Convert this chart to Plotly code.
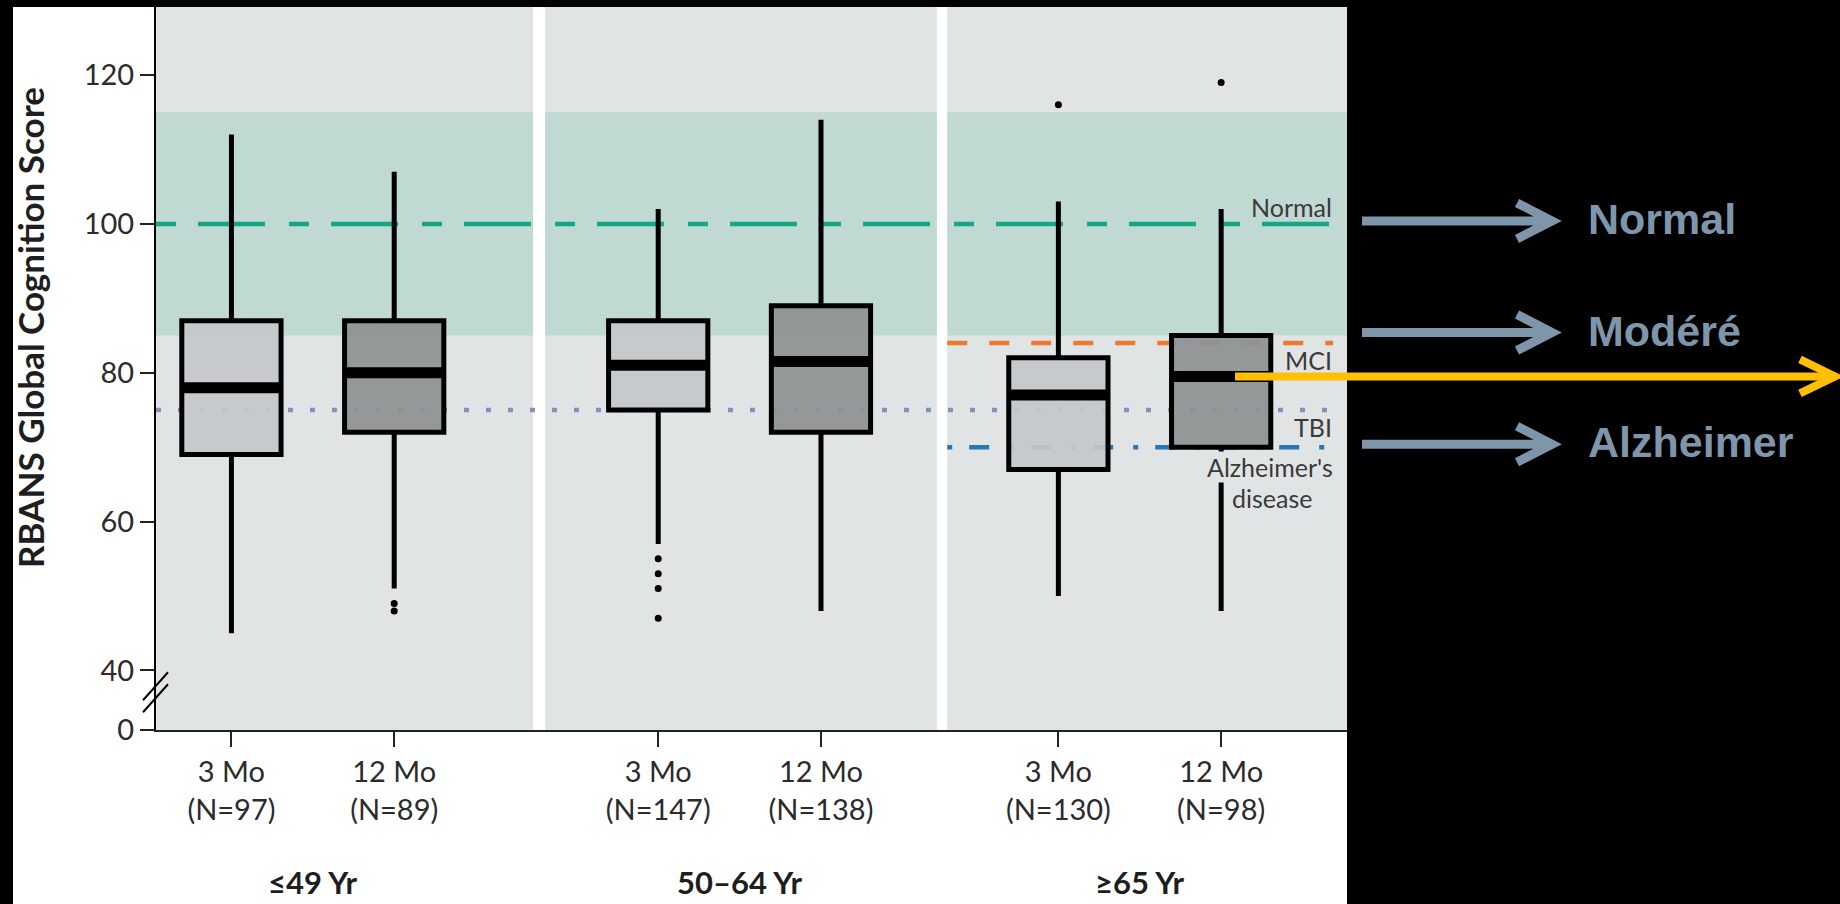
import plotly.graph_objects as go

# ---------------- data ----------------
groups = ["≤49 Yr", "50–64 Yr", "≥65 Yr"]
timepoints = ["3 Mo", "12 Mo"]
n_counts = [97, 89, 147, 138, 130, 98]          # order: g1-3Mo, g1-12Mo, g2-3Mo, ...
lower_whisker = [45, 51, 57, 48, 50, 48]
q1 = [69, 72, 75, 72, 67, 70]
median = [78, 80, 81, 81.5, 77, 79.5]
q3 = [87, 87, 87, 89, 82, 85]
upper_whisker = [112, 107, 102, 114, 103, 102]
outliers = [[], [49, 48], [55, 53, 51, 47], [], [116], [119]]

y_tick_values = [40, 60, 80, 100, 120]
normal_band = [85, 115]
threshold_names = ["Normal", "MCI", "TBI", "Alzheimer's"]
threshold_values = [100, 84, 75, 70]
side_labels = ["Normal", "Modéré", "Alzheimer"]
side_levels = [100, 85, 70]

# ---------------- layout constants ----------------
W, H = 1840, 904
ML, MR, MT, MB = 156, 493, 7, 174
PW, PH = W - ML - MR, H - MT - MB
X_RANGE = [0, 3]
Y_ZERO_POS = 32                     # display position of the broken-axis "0"
Y_RANGE = [Y_ZERO_POS, 129.14]
GROUP_CENTERS = [0.395, 1.47, 2.478]
OFFSET = 0.205
BOX_W = 0.25
PANEL_GAPS = [(0.950, 0.980), (1.967, 1.993)]
LINE_END = 2.965

PANEL_BG = "#e1e4e5"
BAND = "#c0d9d3"
FILL_3 = "rgba(196,200,202,0.93)"
FILL_12 = "rgba(142,146,146,0.93)"
TXT = "#2b2b2b"
FONT = "Lato"
SIDE_COLOR = "#7f95aa"


def px_x(p):
    return (p - ML) / PW


def px_y(p):
    return (H - MB - p) / PH


positions = []
for c in GROUP_CENTERS:
    positions += [c - OFFSET, c + OFFSET]

fig = go.Figure()

fills = [FILL_3, FILL_12]
for t in range(2):
    idx = [g * 2 + t for g in range(3)]
    fig.add_trace(go.Box(
        x=[positions[i] for i in idx],
        q1=[q1[i] for i in idx],
        median=[median[i] for i in idx],
        q3=[q3[i] for i in idx],
        lowerfence=[lower_whisker[i] for i in idx],
        upperfence=[upper_whisker[i] for i in idx],
        width=BOX_W, whiskerwidth=0, boxpoints=False,
        fillcolor=fills[t], line=dict(color="black", width=5),
        hoverinfo="skip", showlegend=False,
    ))

# thick median bars
mx, my = [], []
for p, m in zip(positions, median):
    mx += [p - BOX_W / 2, p + BOX_W / 2, None]
    my += [m, m, None]
fig.add_trace(go.Scatter(x=mx, y=my, mode="lines", line=dict(color="black", width=11),
                         hoverinfo="skip", showlegend=False))

# outliers
ox, oy = [], []
for p, outs in zip(positions, outliers):
    for v in outs:
        ox.append(p)
        oy.append(v)
fig.add_trace(go.Scatter(x=ox, y=oy, mode="markers", marker=dict(color="black", size=7),
                         hoverinfo="skip", showlegend=False))

shapes = []
# white figure background (around plot area, not overlapping it)
shapes.append(dict(type="rect", xref="paper", yref="paper", x0=px_x(13), x1=0,
                   y0=px_y(H), y1=1, fillcolor="white", line=dict(width=0), layer="below"))
shapes.append(dict(type="rect", xref="paper", yref="paper", x0=px_x(13), x1=1,
                   y0=px_y(H), y1=0, fillcolor="white", line=dict(width=0), layer="below"))
# normal band
shapes.append(dict(type="rect", xref="x", yref="y", x0=X_RANGE[0], x1=X_RANGE[1],
                   y0=normal_band[0], y1=normal_band[1], fillcolor=BAND,
                   line=dict(width=0), layer="below"))
# panel gaps
for a, b in PANEL_GAPS:
    shapes.append(dict(type="rect", xref="x", yref="y", x0=a, x1=b, y0=Y_RANGE[0], y1=Y_RANGE[1],
                       fillcolor="white", line=dict(width=0), layer="below"))
# threshold lines
p3_start = PANEL_GAPS[1][1]
line_specs = [
    (0, "#15a887", "20px,22px,67px,24px"),
    (p3_start, "#ec7a2c", "20px,22px"),
    (0, "#8b8fbf", "5px,17px"),
    (p3_start, "#2777b5", "5px,17px,20px,20px"),
]
for v, (x0, col, dash) in zip(threshold_values, line_specs):
    shapes.append(dict(type="line", xref="x", yref="y", x0=x0, x1=LINE_END, y0=v, y1=v,
                       line=dict(color=col, width=4.5, dash=dash), layer="below"))

# axis break marks
for dy in (0, 12):
    shapes.append(dict(type="line", xref="paper", yref="y", xsizemode="pixel", ysizemode="pixel",
                       xanchor=0, yanchor=36, x0=-13, x1=12, y0=-12 + dy, y1=16 + dy,
                       line=dict(color="black", width=2)))

# side arrows
tip = px_x(1552)
for lvl in side_levels:
    shapes.append(dict(type="path", xref="paper", yref="y", xsizemode="pixel", ysizemode="pixel",
                       xanchor=tip, yanchor=lvl,
                       path="M -190,3 L -4,3 M -35,21 L 0,3 L -35,-15",
                       line=dict(color=SIDE_COLOR, width=9), layer="above"))
# yellow arrow to the ≥65 12 Mo median
ytip = px_x(1835)
ystart = (positions[5] + 0.035 - X_RANGE[0]) / (X_RANGE[1] - X_RANGE[0])
shapes.append(dict(type="line", xref="paper", yref="y", x0=ystart, x1=ytip - 0.002,
                   y0=median[5], y1=median[5], line=dict(color="#ffc000", width=8), layer="above"))
shapes.append(dict(type="path", xref="paper", yref="y", xsizemode="pixel", ysizemode="pixel",
                   xanchor=ytip, yanchor=median[5], path="M -35,17 L 0,0 L -35,-17",
                   line=dict(color="#ffc000", width=8), layer="above"))

annotations = []
# threshold labels
lab_x = px_x(1334)
lab_font = dict(family=FONT, size=25, color="#3a3a3a")
annotations.append(dict(text="Normal", xref="paper", yref="y", x=lab_x, y=threshold_values[0],
                        xanchor="right", yanchor="bottom", showarrow=False, font=lab_font))
annotations.append(dict(text="MCI", xref="paper", yref="y", x=lab_x, y=threshold_values[1],
                        xanchor="right", yanchor="top", showarrow=False, font=lab_font))
annotations.append(dict(text="TBI", xref="paper", yref="y", x=lab_x, y=threshold_values[2],
                        xanchor="right", yanchor="top", showarrow=False, font=lab_font))
annotations.append(dict(text="Alzheimer's", xref="paper", yref="y", x=lab_x, y=threshold_values[3],
                        xanchor="right", yanchor="top", yshift=-4, showarrow=False, font=lab_font,
                        bgcolor=PANEL_BG, borderpad=0))
annotations.append(dict(text="disease", xref="paper", yref="y", x=px_x(1272), y=threshold_values[3],
                        xanchor="center", yanchor="top", yshift=-34, showarrow=False, font=lab_font))

# group labels
for c, g in zip(GROUP_CENTERS, groups):
    annotations.append(dict(text=f"<b>{g}</b>", xref="x", yref="paper", x=c, y=px_y(882),
                            xanchor="center", yanchor="middle", showarrow=False,
                            font=dict(family=FONT, size=31, color="#1e1e1e")))

# y axis title
annotations.append(dict(text="<b>RBANS Global Cognition Score</b>", xref="paper", yref="paper",
                        x=px_x(30), y=px_y(328), xanchor="center", yanchor="middle",
                        textangle=-90, showarrow=False,
                        font=dict(family=FONT, size=35, color="#1e1e1e")))

# right side labels
for lab, lvl in zip(side_labels, side_levels):
    annotations.append(dict(text=f"<b>{lab}</b>", xref="paper", yref="y", x=px_x(1586), y=lvl,
                            xanchor="left", yanchor="middle", yshift=5, showarrow=False,
                            font=dict(family="Liberation Sans Narrow, Arial Narrow, Liberation Sans",
                                      size=43, color=SIDE_COLOR)))

tick_text = []
for g in range(3):
    for t in range(2):
        tick_text.append(f"{timepoints[t]}<br>(N={n_counts[g * 2 + t]})")

fig.update_layout(
    width=W, height=H,
    margin=dict(l=ML, r=MR, t=MT, b=MB, pad=0),
    paper_bgcolor="black", plot_bgcolor=PANEL_BG,
    boxmode="overlay",
    shapes=shapes, annotations=annotations,
    xaxis=dict(range=X_RANGE, tickvals=positions, ticktext=tick_text, showgrid=False,
               zeroline=False, showline=True, linecolor="#222", linewidth=2,
               ticks="outside", ticklen=15, tickwidth=2, tickcolor="#222",
               tickfont=dict(family=FONT, size=29, color=TXT)),
    yaxis=dict(range=Y_RANGE, tickvals=[Y_ZERO_POS] + y_tick_values,
               ticktext=["0"] + [str(v) for v in y_tick_values],
               showgrid=False, zeroline=False, showline=True, linecolor="black", linewidth=2,
               ticks="outside", ticklen=14, tickwidth=2, tickcolor="#222",
               tickfont=dict(family=FONT, size=29, color=TXT)),
    showlegend=False,
)

fig.write_html("out.html")
